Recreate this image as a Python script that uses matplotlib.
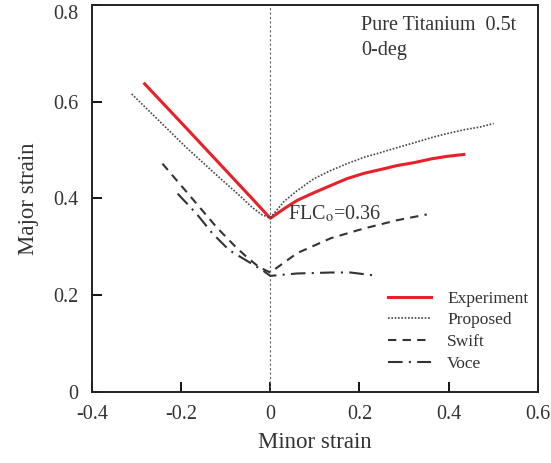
import matplotlib
matplotlib.use('Agg')
import matplotlib.pyplot as plt

# forming limit curves
exp_x = [-0.282, -0.188, -0.114, -0.04, 0.0, 0.031, 0.060, 0.098, 0.136, 0.172, 0.210,
         0.248, 0.284, 0.322, 0.362, 0.396, 0.434]
exp_y = [0.637, 0.545, 0.472, 0.399, 0.359, 0.379, 0.396, 0.412, 0.427, 0.441, 0.452,
         0.460, 0.468, 0.474, 0.482, 0.487, 0.491]

prop_x = [-0.311, -0.188, -0.114, -0.076, -0.04, -0.018, 0.0, 0.031, 0.060, 0.098,
          0.136, 0.172, 0.210, 0.248, 0.284, 0.322, 0.362, 0.396, 0.434, 0.472, 0.501]
prop_y = [0.616, 0.505, 0.443, 0.412, 0.381, 0.366, 0.360, 0.394, 0.416, 0.441,
          0.458, 0.472, 0.485, 0.495, 0.505, 0.515, 0.526, 0.534, 0.542, 0.548, 0.555]

swift_x = [-0.242, -0.18, -0.12, -0.08, -0.053, -0.025, 0.0, 0.06, 0.136, 0.21, 0.284, 0.351]
swift_y = [0.472, 0.405, 0.340, 0.302, 0.279, 0.258, 0.247, 0.287, 0.318, 0.338, 0.355, 0.367]

voce_x = [-0.208, -0.166, -0.13, -0.092, -0.054, -0.018, 0.0, 0.06, 0.136, 0.18, 0.233]
voce_y = [0.410, 0.369, 0.328, 0.293, 0.272, 0.252, 0.240, 0.245, 0.247, 0.247, 0.241]

flc0 = 0.36

plt.rcParams['font.family'] = ['Liberation Serif', 'DejaVu Serif']
plt.rcParams['mathtext.fontset'] = 'stix'
txt = '#333333'

fig = plt.figure(figsize=(5.51, 4.63), dpi=100)
ax = fig.add_axes([0.167, 0.1533, 0.809, 0.836])

ax.axvline(0, color='#666666', lw=0.8, ls=(0, (2, 2)))
ax.plot(exp_x, exp_y, color='#e8202a', lw=2.2, label='Experiment')
ax.plot(prop_x, prop_y, color='#444444', lw=1.2, ls=(0, (1, 1)), label='Proposed')
ax.plot(swift_x, swift_y, color='#333333', lw=1.5, ls=(0, (4, 3)), label='Swift')
ax.plot(voce_x, voce_y, color='#333333', lw=1.5, ls=(0, (7, 3, 1, 3)), label='Voce')

ax.text(0.04, 0.369, 'FLC$_\\mathrm{o}$=%.2f' % flc0, fontsize=14.5, color=txt, va='center')
ax.text(0.204, 0.778, 'Pure Titanium  0.5t\n0-deg', fontsize=14.5, color=txt, va='top',
        linespacing=1.45)

ax.set_xlim(-0.4, 0.6)
ax.set_ylim(0, 0.8)
ax.set_xticks([-0.4, -0.2, 0, 0.2, 0.4, 0.6])
ax.set_xticklabels(['-0.4', '-0.2', '0', '0.2', '0.4', '0.6'])
ax.set_yticks([0, 0.2, 0.4, 0.6, 0.8])
ax.set_yticklabels(['0', '0.2', '0.4', '0.6', '0.8'])
ax.tick_params(direction='in', length=7, width=1.3, labelsize=14.5, labelcolor=txt)
ax.tick_params(axis='x', pad=9)
ax.tick_params(axis='y', pad=10)
ax.get_yticklabels()[-1].set_va('top')
for s in ax.spines.values():
    s.set_linewidth(1.4)
    s.set_color('#222222')

ax.set_xlabel('Minor strain', fontsize=16.5, color=txt, labelpad=6)
ax.set_ylabel('Major strain', fontsize=16.5, color=txt, labelpad=10)

ax.legend(loc='upper left', bbox_to_anchor=(0.664, 0.262), frameon=False, fontsize=12.5,
          borderaxespad=0, borderpad=0, handlelength=2.5, handletextpad=0.9,
          labelspacing=0.32, labelcolor=txt)

fig.savefig('out.png', dpi=100)
